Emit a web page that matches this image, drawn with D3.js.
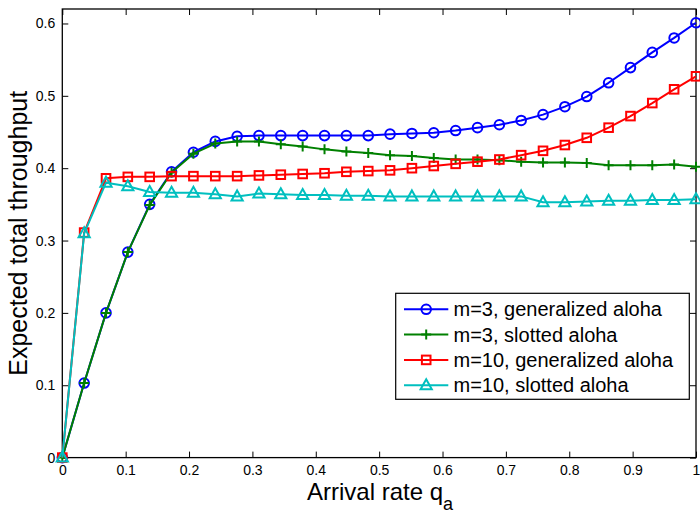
<!DOCTYPE html>
<html>
<head>
<meta charset="utf-8">
<script src="https://cdn.jsdelivr.net/npm/d3@7/dist/d3.min.js"></script>
<style>
  html, body { margin: 0; padding: 0; background: #fff; }
  svg { display: block; font-family: "Liberation Sans", Arial, sans-serif; }
</style>
</head>
<body>
<svg id="chart" width="700" height="515"></svg>
<script>
// Arrival rate grid (30 points on [0, 1])
const arrivalRate = [0, 0.0345, 0.0690, 0.1034, 0.1379, 0.1724, 0.2069, 0.2414, 0.2759, 0.3103,
  0.3448, 0.3793, 0.4138, 0.4483, 0.4828, 0.5172, 0.5517, 0.5862, 0.6207, 0.6552,
  0.6897, 0.7241, 0.7586, 0.7931, 0.8276, 0.8621, 0.8966, 0.9310, 0.9655, 1];

// Expected total throughput per scheme
const m3Generalized = [0, 0.103, 0.200, 0.284, 0.350, 0.395, 0.422, 0.437, 0.444, 0.445,
  0.445, 0.445, 0.445, 0.445, 0.445, 0.447, 0.448, 0.449, 0.452, 0.456,
  0.460, 0.466, 0.474, 0.485, 0.499, 0.518, 0.539, 0.560, 0.580, 0.601];
const m3Slotted = [0, 0.103, 0.200, 0.284, 0.349, 0.394, 0.420, 0.434, 0.437, 0.437,
  0.433, 0.430, 0.426, 0.423, 0.421, 0.418, 0.417, 0.414, 0.412, 0.412,
  0.411, 0.409, 0.408, 0.408, 0.407, 0.404, 0.404, 0.404, 0.405, 0.402];
const m10Generalized = [0, 0.311, 0.386, 0.388, 0.388, 0.389, 0.389, 0.389, 0.389, 0.390,
  0.391, 0.392, 0.393, 0.395, 0.396, 0.397, 0.400, 0.403, 0.406, 0.409,
  0.412, 0.418, 0.424, 0.432, 0.442, 0.456, 0.472, 0.490, 0.509, 0.527];
const m10Slotted = [0, 0.310, 0.380, 0.375, 0.367, 0.366, 0.366, 0.364, 0.361, 0.365,
  0.364, 0.363, 0.363, 0.362, 0.362, 0.361, 0.361, 0.361, 0.361, 0.361,
  0.361, 0.361, 0.353, 0.353, 0.354, 0.355, 0.355, 0.356, 0.356, 0.357];

const seriesNames = ["m=3, generalized aloha", "m=3, slotted aloha", "m=10, generalized aloha", "m=10, slotted aloha"];
const seriesValues = [m3Generalized, m3Slotted, m10Generalized, m10Slotted];
const seriesColors = ["#0000ff", "#008000", "#ff0000", "#00bfbf"];
const seriesMarkers = ["circle", "plus", "square", "triangle"];

const xTicks = [0, 0.1, 0.2, 0.3, 0.4, 0.5, 0.6, 0.7, 0.8, 0.9, 1];
const xTickLabels = ["0", "0.1", "0.2", "0.3", "0.4", "0.5", "0.6", "0.7", "0.8", "0.9", "1"];
const yTicks = [0, 0.1, 0.2, 0.3, 0.4, 0.5, 0.6];
const yTickLabels = ["0", "0.1", "0.2", "0.3", "0.4", "0.5", "0.6"];

const svg = d3.select("#chart");
const plotLeft = 62.3, plotRight = 696, plotTop = 9, plotBottom = 457.6;

const x = d3.scaleLinear().domain([0, 1]).range([plotLeft, plotRight]);
const y = d3.scaleLinear().domain([0, 0.62]).range([plotBottom, plotTop]);

const tickLen = 6;

// Axes with inward ticks on all four sides
const gx = svg.append("g").attr("transform", `translate(0,${plotBottom})`)
  .call(d3.axisBottom(x).tickValues(xTicks).tickFormat((d, i) => xTickLabels[i]).tickSizeInner(-tickLen).tickSizeOuter(0).tickPadding(7));
const gxt = svg.append("g").attr("transform", `translate(0,${plotTop})`)
  .call(d3.axisTop(x).tickValues(xTicks).tickFormat("").tickSizeInner(-tickLen).tickSizeOuter(0));
const gy = svg.append("g").attr("transform", `translate(${plotLeft},0)`)
  .call(d3.axisLeft(y).tickValues(yTicks).tickFormat((d, i) => yTickLabels[i]).tickSizeInner(-tickLen).tickSizeOuter(0).tickPadding(7));
const gyr = svg.append("g").attr("transform", `translate(${plotRight},0)`)
  .call(d3.axisRight(y).tickValues(yTicks).tickFormat("").tickSizeInner(-tickLen).tickSizeOuter(0));

[gx, gxt, gy, gyr].forEach(g => {
  g.select(".domain").remove();
  g.selectAll(".tick line").attr("stroke", "#000").attr("stroke-width", 1);
  g.selectAll("text").attr("fill", "#000").style("font-size", "14px")
    .style("font-family", "'Liberation Sans', Arial, sans-serif");
});

// Box
svg.append("rect").attr("x", plotLeft).attr("y", plotTop)
  .attr("width", plotRight - plotLeft).attr("height", plotBottom - plotTop)
  .attr("fill", "none").attr("stroke", "#000").attr("stroke-width", 1.3);

// Marker drawing
function drawMarker(g, type, cx, cy, color) {
  if (type === "circle") {
    g.append("circle").attr("cx", cx).attr("cy", cy).attr("r", 4.8)
      .attr("fill", "none").attr("stroke", color).attr("stroke-width", 2);
  } else if (type === "plus") {
    g.append("path").attr("d", `M${cx - 5},${cy}H${cx + 5}M${cx},${cy - 5}V${cy + 5}`)
      .attr("stroke", color).attr("stroke-width", 2).attr("fill", "none");
  } else if (type === "square") {
    g.append("rect").attr("x", cx - 4.3).attr("y", cy - 4.3).attr("width", 8.6).attr("height", 8.6)
      .attr("fill", "none").attr("stroke", color).attr("stroke-width", 2);
  } else if (type === "triangle") {
    g.append("path").attr("d", `M${cx},${cy - 6}L${cx + 5.6},${cy + 4}L${cx - 5.6},${cy + 4}Z`)
      .attr("fill", "none").attr("stroke", color).attr("stroke-width", 2).attr("stroke-linejoin", "miter");
  }
}

const line = d3.line().x(d => x(d[0])).y(d => y(d[1]));

const plot = svg.append("g");
seriesValues.forEach((vals, s) => {
  const pts = arrivalRate.map((q, i) => [q, vals[i]]);
  const g = plot.append("g");
  g.append("path").datum(pts).attr("d", line)
    .attr("fill", "none").attr("stroke", seriesColors[s]).attr("stroke-width", 2)
    .attr("stroke-linejoin", "round");
  pts.forEach(p => drawMarker(g, seriesMarkers[s], x(p[0]), y(p[1]), seriesColors[s]));
});

// Axis titles
svg.append("text")
  .attr("transform", `translate(26.5,${(plotTop + plotBottom) / 2}) rotate(-90)`)
  .attr("text-anchor", "middle")
  .style("font-size", "25px").attr("fill", "#000")
  .text("Expected total throughput");

const xt = svg.append("text")
  .attr("x", 380).attr("y", 500)
  .attr("text-anchor", "middle")
  .style("font-size", "24px").attr("fill", "#000");
xt.append("tspan").text("Arrival rate q");
xt.append("tspan").attr("dy", 10).style("font-size", "18px").text("a");

// Legend
const lg = svg.append("g");
lg.append("rect").attr("x", 395.7).attr("y", 293.3).attr("width", 293.6).attr("height", 106)
  .attr("fill", "#fff").attr("stroke", "#000").attr("stroke-width", 1.2);
const rowY = [309.3, 334.6, 359.9, 385.2];
seriesNames.forEach((name, s) => {
  const yy = rowY[s];
  lg.append("line").attr("x1", 404).attr("x2", 448.3).attr("y1", yy).attr("y2", yy)
    .attr("stroke", seriesColors[s]).attr("stroke-width", 2);
  drawMarker(lg, seriesMarkers[s], 426.2, yy, seriesColors[s]);
  lg.append("text").attr("x", 453.5).attr("y", yy + 7)
    .style("font-size", "20px").attr("fill", "#000").text(name);
});
</script>
</body>
</html>
